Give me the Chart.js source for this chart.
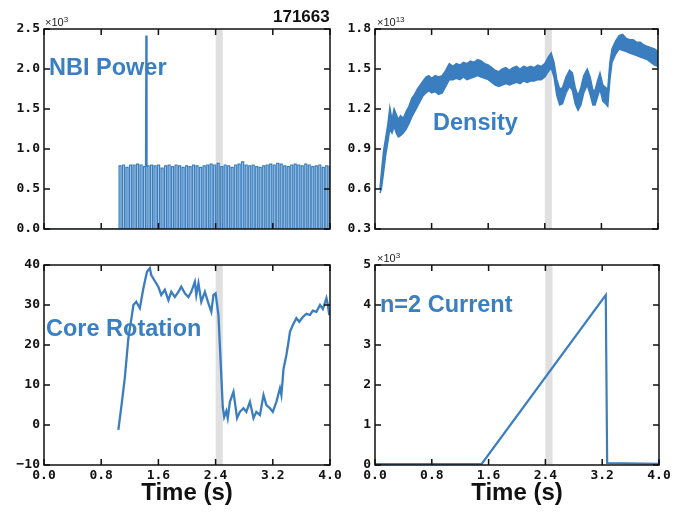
<!DOCTYPE html>
<html>
<head>
<meta charset="utf-8">
<script src="https://cdn.jsdelivr.net/npm/chart.js@4"></script>
<style>
  body { margin: 0; background: #fff; }
  #fig { position: relative; width: 691px; height: 512px; overflow: hidden; }
  #fig canvas { position: absolute; left: 0; top: 0; }
  .lbl { position: absolute; font: bold 23.5px 'Liberation Sans', Arial, sans-serif; color: #3a7fc1; line-height: 1; white-space: nowrap; }
  .off { position: absolute; font: 11px 'Liberation Sans', Arial, sans-serif; color: #222; line-height: 1; white-space: nowrap; }
  .off sup { font-size: 8px; vertical-align: 4px; line-height: 0; }
  #shot { position: absolute; left: 273px; top: 8px; font: bold 17px 'Liberation Sans', Arial, sans-serif; color: #111; line-height: 1; }
</style>
</head>
<body>
<div id="fig">
  <canvas id="cNbi" width="691" height="512"></canvas>
  <canvas id="cDens" width="691" height="512"></canvas>
  <canvas id="cRot" width="691" height="512"></canvas>
  <canvas id="cCur" width="691" height="512"></canvas>
  <div id="shot">171663</div>
  <div class="off" style="left:45px;top:17px">×10<sup>3</sup></div>
  <div class="off" style="left:377px;top:17px">×10<sup>13</sup></div>
  <div class="off" style="left:377px;top:253px">×10<sup>3</sup></div>
  <div class="lbl" style="left:49px;top:56px">NBI Power</div>
  <div class="lbl" style="left:433px;top:111px">Density</div>
  <div class="lbl" style="left:46px;top:317px">Core Rotation</div>
  <div class="lbl" style="left:380px;top:293px">n=2 Current</div>
</div>
<script>
// eixo de tempo comum
const xTicks = [0.0, 0.8, 1.6, 2.4, 3.2, 4.0];
const shadeBand = [2.40, 2.50];

// NBI Power (x10^3) - pulsos modulados
const nbiPulseT = [1.050, 1.099, 1.148, 1.197, 1.246, 1.295, 1.344, 1.393, 1.442, 1.491,
  1.540, 1.589, 1.638, 1.687, 1.736, 1.785, 1.834, 1.883, 1.932, 1.981,
  2.030, 2.079, 2.128, 2.177, 2.226, 2.275, 2.324, 2.373, 2.422, 2.471,
  2.520, 2.569, 2.618, 2.667, 2.716, 2.765, 2.814, 2.863, 2.912, 2.961,
  3.010, 3.059, 3.108, 3.157, 3.206, 3.255, 3.304, 3.353, 3.402, 3.451,
  3.500, 3.549, 3.598, 3.647, 3.696, 3.745, 3.794, 3.843, 3.892, 3.941, 3.990];
const nbiPulseV = [0.79, 0.80, 0.77, 0.80, 0.80, 0.81, 0.80, 0.78, 0.79, 0.80,
  0.79, 0.80, 0.76, 0.79, 0.80, 0.78, 0.80, 0.79, 0.77, 0.79,
  0.78, 0.80, 0.79, 0.77, 0.79, 0.80, 0.81, 0.80, 0.82, 0.78,
  0.80, 0.79, 0.77, 0.80, 0.81, 0.84, 0.80, 0.79, 0.80, 0.78,
  0.77, 0.79, 0.80, 0.81, 0.80, 0.82, 0.81, 0.79, 0.78, 0.80,
  0.81, 0.80, 0.79, 0.81, 0.80, 0.78, 0.79, 0.80, 0.77, 0.79, 0.78];
const nbiPulseW = 0.028;
const nbiSpikeT = [1.425, 1.430, 1.436];
const nbiSpikeV = [0.78, 2.42, 0.78];
const nbiTicks = [0.0, 0.5, 1.0, 1.5, 2.0, 2.5];

// Density (x10^13) - envelope superior / inferior
const densT = [0.07, 0.09, 0.12, 0.15, 0.18, 0.21, 0.24, 0.27, 0.30, 0.33, 0.36, 0.40, 0.44, 0.48,
  0.52, 0.56, 0.60, 0.64, 0.68, 0.72, 0.76, 0.80, 0.85, 0.90, 0.95, 1.00, 1.05, 1.10, 1.15,
  1.20, 1.25, 1.30, 1.35, 1.40, 1.45, 1.50, 1.55, 1.60, 1.65, 1.70, 1.75, 1.80, 1.85, 1.90,
  1.95, 2.00, 2.05, 2.10, 2.15, 2.20, 2.25, 2.30, 2.35, 2.40, 2.45, 2.49, 2.53, 2.57, 2.61,
  2.65, 2.70, 2.75, 2.79, 2.83, 2.87, 2.91, 2.95, 3.00, 3.04, 3.08, 3.11, 3.15, 3.18, 3.22,
  3.26, 3.29, 3.32, 3.35, 3.40, 3.45, 3.50, 3.55, 3.60, 3.65, 3.70, 3.75, 3.80, 3.85, 3.90,
  3.95, 4.00];
const densHi = [0.60, 0.72, 0.88, 0.98, 1.08, 1.21, 1.12, 1.20, 1.16, 1.12, 1.15, 1.13, 1.18, 1.22,
  1.28, 1.31, 1.35, 1.38, 1.41, 1.44, 1.45, 1.43, 1.45, 1.44, 1.45, 1.49, 1.54, 1.52, 1.54,
  1.53, 1.55, 1.54, 1.56, 1.55, 1.57, 1.56, 1.54, 1.53, 1.51, 1.49, 1.48, 1.50, 1.51, 1.49,
  1.51, 1.52, 1.50, 1.52, 1.51, 1.52, 1.51, 1.53, 1.52, 1.54, 1.59, 1.62, 1.55, 1.42, 1.35,
  1.36, 1.44, 1.49, 1.47, 1.36, 1.30, 1.36, 1.45, 1.50, 1.44, 1.34, 1.34, 1.42, 1.47, 1.38,
  1.36, 1.35, 1.55, 1.65, 1.71, 1.75, 1.76, 1.73, 1.72, 1.72, 1.70, 1.70, 1.68, 1.67, 1.66,
  1.65, 1.63];
const densLo = [0.57, 0.60, 0.72, 0.85, 0.95, 1.05, 1.02, 1.07, 1.02, 0.99, 1.00, 1.02, 1.05, 1.09,
  1.14, 1.18, 1.22, 1.26, 1.30, 1.32, 1.34, 1.32, 1.33, 1.31, 1.32, 1.37, 1.42, 1.42, 1.43,
  1.42, 1.44, 1.42, 1.43, 1.44, 1.45, 1.44, 1.43, 1.42, 1.40, 1.38, 1.37, 1.38, 1.39, 1.38,
  1.39, 1.40, 1.39, 1.41, 1.40, 1.41, 1.41, 1.42, 1.42, 1.44, 1.48, 1.51, 1.44, 1.30, 1.23,
  1.24, 1.32, 1.37, 1.34, 1.24, 1.19, 1.23, 1.32, 1.38, 1.31, 1.23, 1.23, 1.30, 1.35, 1.26,
  1.24, 1.22, 1.42, 1.55, 1.61, 1.65, 1.64, 1.63, 1.62, 1.61, 1.60, 1.59, 1.58, 1.57, 1.55,
  1.53, 1.52];
const densTicks = [0.3, 0.6, 0.9, 1.2, 1.5, 1.8];

// Core Rotation
const rotT = [1.04, 1.09, 1.13, 1.18, 1.23, 1.25, 1.29, 1.34, 1.39, 1.44, 1.48, 1.50, 1.55, 1.60,
  1.64, 1.69, 1.74, 1.78, 1.83, 1.88, 1.92, 1.97, 2.02, 2.06, 2.11, 2.13, 2.16, 2.20, 2.25,
  2.30, 2.34, 2.37, 2.40, 2.44, 2.47, 2.50, 2.52, 2.55, 2.57, 2.60, 2.65, 2.70, 2.74, 2.79,
  2.83, 2.88, 2.93, 2.97, 3.02, 3.07, 3.11, 3.16, 3.20, 3.25, 3.30, 3.32, 3.35, 3.39, 3.42,
  3.44, 3.48, 3.53, 3.57, 3.62, 3.67, 3.72, 3.76, 3.81, 3.86, 3.90, 3.95, 3.97, 3.99];
const rotV = [-1.2, 5.8, 11.7, 21.7, 27.5, 30.0, 30.8, 29.2, 34.2, 38.3, 39.2, 37.5, 36.0, 34.5,
  32.5, 33.8, 31.2, 33.3, 32.0, 33.3, 34.6, 32.9, 32.0, 33.3, 35.8, 32.5, 35.4, 30.8, 33.3,
  30.4, 28.3, 32.5, 32.9, 27.5, 16.0, 4.5, 2.0, 3.5, 1.7, 5.8, 8.3, 1.7, 3.3, 4.2,
  3.3, 5.8, 1.7, 3.3, 2.5, 7.5, 5.0, 4.2, 3.3, 5.8, 9.2, 7.5, 14.0, 17.5, 20.8,
  23.3, 25.0, 26.7, 25.8, 27.0, 27.8, 27.5, 28.6, 28.3, 30.0, 29.0, 31.7, 30.0, 27.5];
const rotTicks = [-10, 0, 10, 20, 30, 40];

// n=2 Current (x10^3)
const curT = [0.0, 1.50, 3.25, 3.27, 4.0];
const curV = [0.02, 0.02, 4.25, 0.05, 0.03];
const curTicks = [0, 1, 2, 3, 4, 5];

const azul = '#3a7ebf';
const tickFont = { family: 'DejaVu Sans Mono', weight: 'bold', size: 13 };

function pontos(ts, vs) {
  return ts.map((t, i) => ({ x: t, y: vs[i] }));
}

// faixa cinza + moldura com ticks para dentro
const moldura = {
  id: 'moldura',
  beforeDatasetsDraw(chart) {
    const { ctx, chartArea: a, scales } = chart;
    const x0 = scales.x.getPixelForValue(shadeBand[0]);
    const x1 = scales.x.getPixelForValue(shadeBand[1]);
    ctx.save();
    ctx.fillStyle = '#e0e0e0';
    ctx.fillRect(x0, a.top, x1 - x0, a.bottom - a.top);
    ctx.restore();
  },
  afterDraw(chart) {
    const { ctx, chartArea: a, scales } = chart;
    const len = 6;
    ctx.save();
    ctx.strokeStyle = '#111';
    ctx.lineWidth = 1.5;
    ctx.beginPath();
    scales.x.ticks.forEach(t => {
      const px = scales.x.getPixelForValue(t.value);
      ctx.moveTo(px, a.bottom); ctx.lineTo(px, a.bottom - len);
      ctx.moveTo(px, a.top); ctx.lineTo(px, a.top + len);
    });
    scales.y.ticks.forEach(t => {
      const py = scales.y.getPixelForValue(t.value);
      ctx.moveTo(a.left, py); ctx.lineTo(a.left + len, py);
      ctx.moveTo(a.right, py); ctx.lineTo(a.right - len, py);
    });
    ctx.stroke();
    ctx.strokeRect(a.left, a.top, a.right - a.left, a.bottom - a.top);
    ctx.restore();
  }
};

function painel(id, datasets, o) {
  return new Chart(document.getElementById(id), {
    type: 'line',
    data: { datasets },
    plugins: [moldura],
    options: {
      responsive: false,
      animation: false,
      events: [],
      layout: { padding: o.pad },
      plugins: { legend: { display: false }, tooltip: { enabled: false } },
      elements: { point: { radius: 0 }, line: { tension: 0 } },
      scales: {
        x: {
          type: 'linear', min: 0, max: 4,
          afterBuildTicks: s => { s.ticks = xTicks.map(v => ({ value: v })); },
          afterFit: s => { s.height = o.xH; },
          grid: { display: false, drawTicks: false },
          border: { display: false },
          ticks: { display: o.rotulosX, padding: 3, maxRotation: 0, autoSkip: false,
                   font: tickFont, color: '#111', callback: v => v.toFixed(1) },
          title: { display: o.rotulosX, text: 'Time (s)', color: '#111',
                   font: { family: 'Liberation Sans', weight: 'bold', size: 24 },
                   padding: { top: 0, bottom: 4 } }
        },
        y: {
          type: 'linear', min: o.yTicks[0], max: o.yTicks[o.yTicks.length - 1],
          afterBuildTicks: s => { s.ticks = o.yTicks.map(v => ({ value: v })); },
          afterFit: s => { s.width = o.yW; },
          grid: { display: false, drawTicks: false },
          border: { display: false },
          ticks: { padding: 4, font: tickFont, color: '#111', autoSkip: false, callback: o.fmt }
        }
      }
    }
  });
}

// monta a série de pulsos do NBI a partir dos arrays
const nbiPts = [{ x: 0, y: 0 }];
nbiPulseT.forEach((t, i) => {
  nbiPts.push({ x: t, y: 0 }, { x: t, y: nbiPulseV[i] },
              { x: t + nbiPulseW, y: nbiPulseV[i] }, { x: t + nbiPulseW, y: 0 });
});

painel('cNbi', [
  { data: nbiPts, borderColor: azul, borderWidth: 1.2, fill: 'origin', backgroundColor: 'rgba(58,126,191,0.35)' },
  { data: pontos(nbiSpikeT, nbiSpikeV), borderColor: azul, borderWidth: 2 }
], { pad: { left: 0, right: 361, top: 29, bottom: 263 }, xH: 20, yW: 44, rotulosX: false,
     yTicks: nbiTicks, fmt: v => v.toFixed(1) });

painel('cDens', [
  { data: pontos(densT, densHi), borderColor: azul, borderWidth: 1.5, fill: '+1', backgroundColor: azul },
  { data: pontos(densT, densLo), borderColor: azul, borderWidth: 1.5 }
], { pad: { left: 345, right: 33, top: 29, bottom: 263 }, xH: 20, yW: 30, rotulosX: false,
     yTicks: densTicks, fmt: v => v.toFixed(1) });

painel('cRot', [
  { data: pontos(rotT, rotV), borderColor: azul, borderWidth: 2.3 }
], { pad: { left: 0, right: 361, top: 265, bottom: 0 }, xH: 47, yW: 44, rotulosX: true,
     yTicks: rotTicks, fmt: v => String(v).replace('-', '\u2212') });

painel('cCur', [
  { data: pontos(curT, curV), borderColor: azul, borderWidth: 2.2 }
], { pad: { left: 345, right: 32, top: 265, bottom: 0 }, xH: 47, yW: 30, rotulosX: true,
     yTicks: curTicks, fmt: v => String(v) });
</script>
</body>
</html>
